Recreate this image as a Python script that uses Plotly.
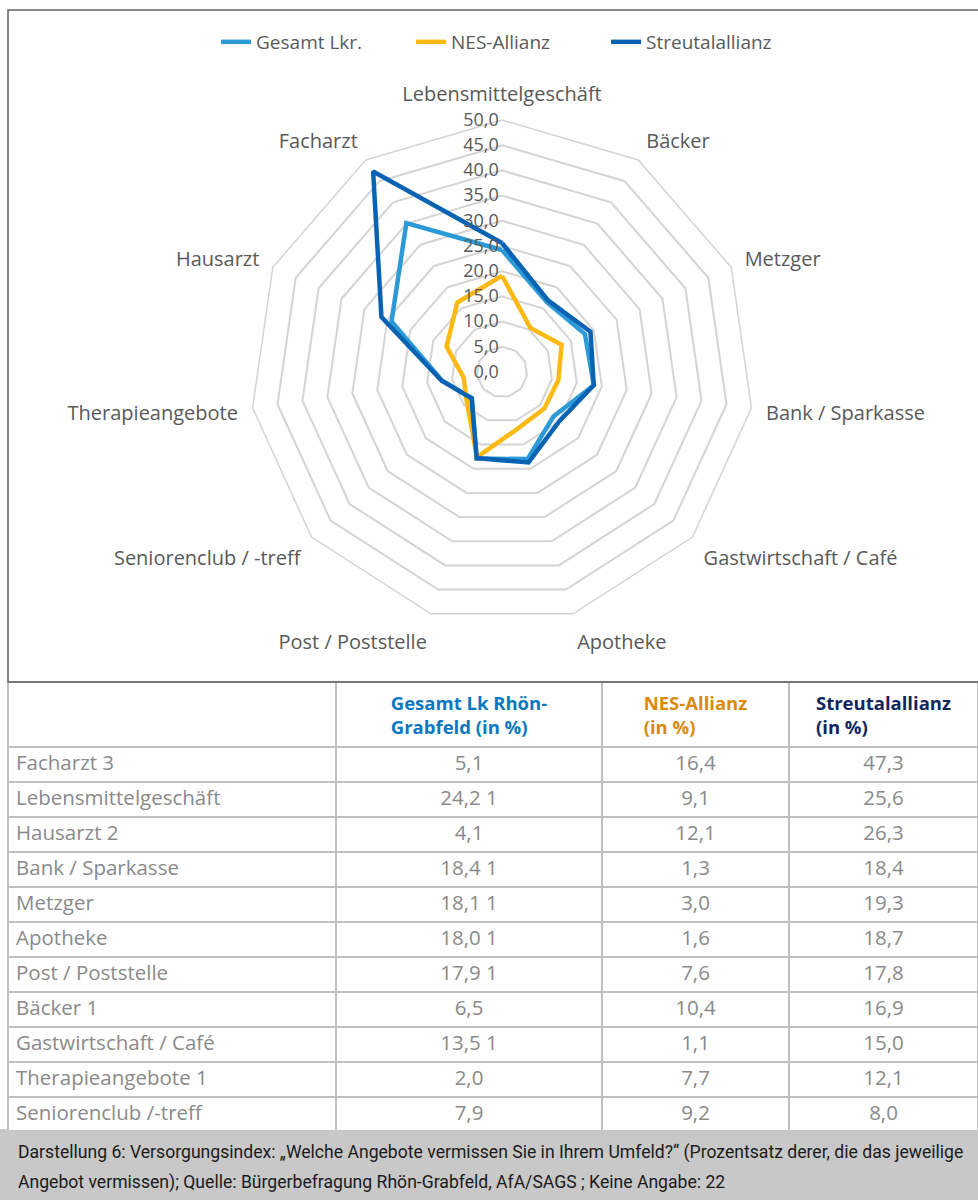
import plotly.graph_objects as go

# radar data
categories = ["Lebensmittelgeschäft", "Bäcker", "Metzger", "Bank / Sparkasse",
              "Gastwirtschaft / Café", "Apotheke", "Post / Poststelle",
              "Seniorenclub / -treff", "Therapieangebote", "Hausarzt", "Facharzt"]
gesamt = [24.2, 16.5, 18.1, 18.4, 13.5, 18.0, 17.9, 7.9, 12.0, 24.1, 35.1]
nes = [19.1, 10.4, 13.0, 11.3, 11.1, 11.6, 17.6, 9.2, 7.7, 12.1, 16.4]
streutal = [25.6, 16.9, 19.3, 18.4, 15.0, 18.7, 17.8, 8.0, 12.1, 26.3, 47.3]
series_names = ["Gesamt Lkr.", "NES-Allianz", "Streutalallianz"]

# table below the chart (text as printed)
table_rows = ["Facharzt 3", "Lebensmittelgeschäft", "Hausarzt 2", "Bank / Sparkasse",
              "Metzger", "Apotheke", "Post / Poststelle", "Bäcker 1",
              "Gastwirtschaft / Café", "Therapieangebote 1", "Seniorenclub /-treff"]
col_gesamt = ["5,1", "24,2 1", "4,1", "18,4 1", "18,1 1", "18,0 1", "17,9 1",
              "6,5", "13,5 1", "2,0", "7,9"]
col_nes = ["16,4", "9,1", "12,1", "1,3", "3,0", "1,6", "7,6", "10,4", "1,1", "7,7", "9,2"]
col_streutal = ["47,3", "25,6", "26,3", "18,4", "19,3", "18,7", "17,8", "16,9",
                "15,0", "12,1", "8,0"]
table_header = ["", "Gesamt Lk Rhön-<br>Grabfeld (in %)", "NES-Allianz<br>(in %)",
                "Streutalallianz<br>(in %)"]

caption_1 = ("Darstellung 6: Versorgungsindex: „Welche Angebote vermissen Sie in Ihrem Umfeld?“ "
             "(Prozentsatz derer, die das jeweilige")
caption_2 = "Angebot vermissen); Quelle: Bürgerbefragung Rhön-Grabfeld, AfA/SAGS ; Keine Angabe: 22"

colors = ["#2b9ad6", "#fdb913", "#0a63b2"]
header_colors = ["#7f7f7f", "#0a78c0", "#d98a0a", "#10265e"]
W, H = 978, 1200
grid = "#d4d4d4"
txt = "#595959"

fig = go.Figure()

for name, vals, c in zip(series_names, [gesamt, nes, streutal], colors):
    fig.add_trace(go.Scatterpolar(
        r=vals + vals[:1], theta=categories + categories[:1],
        mode="lines", name=name,
        line=dict(color=c, width=4.5),
    ))

fig.add_trace(go.Table(
    domain=dict(x=[8 / W, 1], y=[0.058, 1 - 682 / H]),
    columnwidth=[328, 266, 187, 189],
    header=dict(
        values=["<b>%s</b>" % h if h else "" for h in table_header],
        fill_color="white",
        line=dict(color="#bfbfbf", width=2),
        align=["left", "center", "center", "center"],
        font=dict(family="Open Sans", size=18.5, color=header_colors),
        height=58,
    ),
    cells=dict(
        values=[table_rows, col_gesamt, col_nes, col_streutal],
        fill_color="white",
        line=dict(color="#bfbfbf", width=2),
        align=["left", "center", "center", "center"],
        font=dict(family="Open Sans", size=20.5, color="#8a8a8a"),
        height=35,
    ),
))

cx, r = 502, 252
cy = 372
fig.update_layout(
    width=W, height=H,
    margin=dict(l=0, r=0, t=0, b=0),
    paper_bgcolor="white",
    separators=",.",
    font=dict(family="Open Sans", color=txt, size=17),
    showlegend=True,
    legend=dict(orientation="h", x=0.52, xanchor="center", y=1 - 42 / H, yanchor="middle",
                font=dict(size=19, color=txt), itemwidth=30, entrywidth=150),
    polar=dict(
        domain=dict(x=[(cx - r) / W, (cx + r) / W], y=[1 - (cy + r) / H, 1 - (cy - r) / H]),
        bgcolor="white",
        gridshape="linear",
        radialaxis=dict(range=[0, 50], dtick=5, tickformat=".1f", angle=90, tickangle=90,
                        side="counterclockwise", showline=False, ticks="",
                        gridcolor=grid, gridwidth=1.5,
                        tickfont=dict(size=18, color=txt)),
        angularaxis=dict(direction="clockwise", rotation=90, showgrid=False,
                         showline=True, linecolor=grid, linewidth=1.5,
                         ticks="outside", ticklen=10, tickcolor="rgba(0,0,0,0)",
                         tickfont=dict(size=20, color=txt)),
    ),
    shapes=[
        dict(type="rect", xref="paper", yref="paper", x0=8 / W, x1=1.02,
             y0=1 - 682 / H, y1=1 - 10 / H, line=dict(color="#606060", width=1.5)),
        dict(type="rect", xref="paper", yref="paper", x0=0, x1=1, y0=0, y1=1 - 1129 / H,
             fillcolor="#c8c8c8", line=dict(width=0), layer="below"),
    ],
    annotations=[
        dict(text=caption_1, xref="paper", yref="paper", x=16 / W, y=1 - 1152 / H,
             xanchor="left", yanchor="middle", showarrow=False,
             font=dict(family="Roboto", size=17.6, color="#1a1a1a")),
        dict(text=caption_2, xref="paper", yref="paper", x=16 / W, y=1 - 1182 / H,
             xanchor="left", yanchor="middle", showarrow=False,
             font=dict(family="Roboto", size=17.6, color="#1a1a1a")),
    ],
)

fig.write_html("out.html", config={"displayModeBar": False},
               post_script="document.body.style.margin='0';")
